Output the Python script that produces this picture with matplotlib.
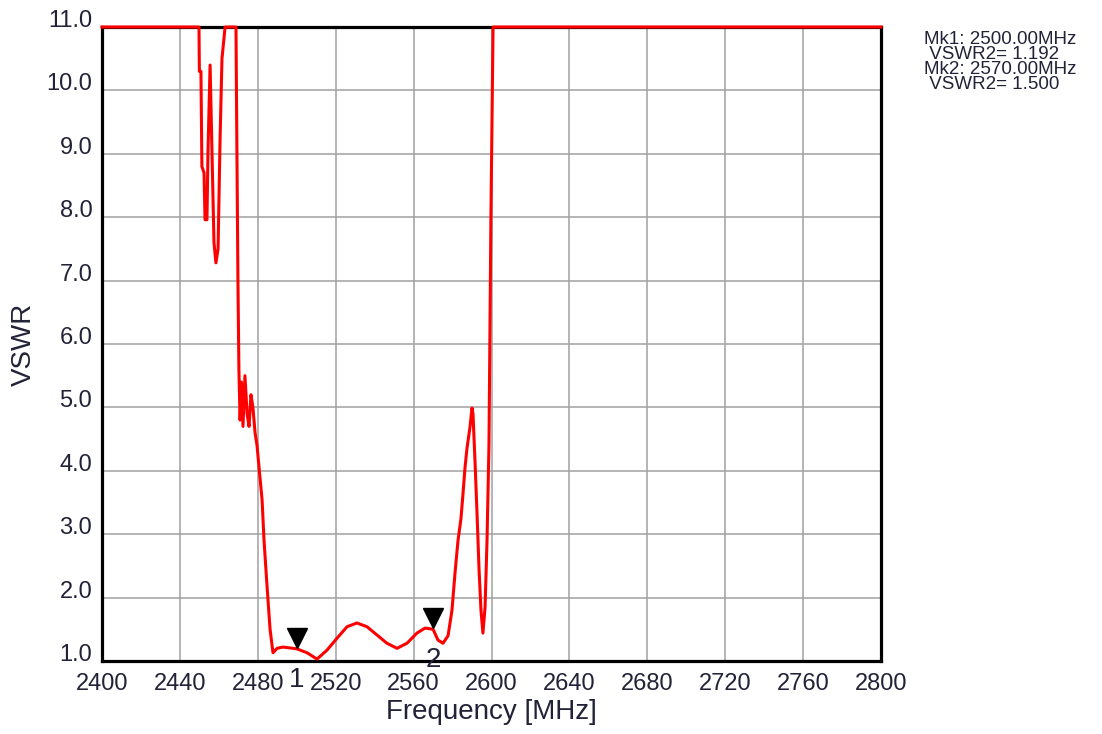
import matplotlib
matplotlib.use("Agg")
import matplotlib.pyplot as plt
import matplotlib.transforms as mtransforms

plt.rcParams['font.family'] = ['Liberation Sans', 'DejaVu Sans']

freq = [2400, 2449.8, 2450.0, 2450.8, 2451.3, 2452.4, 2452.9, 2453.9, 2454.4, 2455.5,
        2456.5, 2457.5, 2458.5, 2459.6, 2460.6, 2461.6, 2463.2, 2468.8, 2469.1, 2469.8,
        2470.3, 2470.9, 2471.6, 2472.4, 2473.4, 2474.5, 2475.5, 2476.5, 2477.5, 2478.6,
        2479.6, 2481.1, 2482.2, 2483.2, 2484.7, 2486.3, 2487.8, 2489.9, 2492.9, 2498.1,
        2500, 2505.3, 2510.4, 2515.5, 2520.7, 2525.8, 2530.9, 2536.1, 2541.2, 2546.3,
        2551.5, 2556.6, 2561.7, 2565.9, 2570, 2572.5, 2575.1, 2577.7, 2579.7, 2581.3,
        2582.8, 2584.3, 2585.4, 2586.4, 2587.4, 2589.0, 2590.0, 2590.5, 2591.6, 2592.6,
        2593.6, 2594.6, 2595.6, 2596.7, 2597.7, 2598.7, 2599.7, 2600.8, 2800]
vswr = [11, 11, 10.3, 10.3, 8.8, 8.7, 7.96, 7.96, 9.0, 10.4,
        9.0, 7.6, 7.28, 7.5, 9.2, 10.5, 11, 11, 9.74, 7.0,
        5.6, 4.8, 5.4, 4.7, 5.5, 4.9, 4.7, 5.2, 5.0, 4.6,
        4.4, 3.9, 3.54, 2.9, 2.2, 1.5, 1.13, 1.2, 1.22, 1.2,
        1.192, 1.13, 1.03, 1.17, 1.36, 1.54, 1.6, 1.54, 1.41, 1.28,
        1.2, 1.28, 1.44, 1.52, 1.5, 1.33, 1.28, 1.4, 1.8, 2.4,
        2.9, 3.24, 3.65, 4.05, 4.35, 4.7, 4.99, 4.9, 4.1, 3.3,
        2.45, 1.8, 1.44, 1.85, 2.9, 4.4, 8.0, 11, 11]

marker_freq = [2500, 2570]
marker_vswr = [1.192, 1.500]
marker_names = ["1", "2"]
marker_text = ["Mk1: 2500.00MHz", " VSWR2= 1.192", "Mk2: 2570.00MHz", " VSWR2= 1.500"]

x_ticks = list(range(2400, 2801, 40))
y_ticks = [1.0, 2.0, 3.0, 4.0, 5.0, 6.0, 7.0, 8.0, 9.0, 10.0, 11.0]

W, H = 1102, 734
fig = plt.figure(figsize=(W / 100, H / 100), dpi=100)
ax = fig.add_axes([102 / W, (H - 661) / H, 779 / W, 634 / H])

text_color = '#222238'

ax.set_xlim(2400, 2800)
ax.set_ylim(1.0, 11.0)
ax.set_xticks(x_ticks)
ax.set_yticks(y_ticks)
ax.set_xticklabels([str(t) for t in x_ticks])
ax.set_yticklabels([f"{t:.1f}" for t in y_ticks])
ax.grid(True, color='#a0a0a0', linewidth=1.1)
ax.set_axisbelow(True)
ax.tick_params(length=0, labelsize=17, labelcolor=text_color)
ax.tick_params(axis='x', pad=9)
ax.tick_params(axis='y', pad=7)
for lab in ax.get_yticklabels():
    lab.set_va('baseline')

for s in ax.spines.values():
    s.set_linewidth(2.3)
    s.set_color('black')

ax.plot(freq, vswr, color='#ff0000', linewidth=2.2, clip_on=False, zorder=5)

# markers
off_tri = mtransforms.offset_copy(ax.transData, fig=fig, x=0, y=11, units='dots')
ax.plot(marker_freq, marker_vswr, linestyle='none', marker='v', markersize=14,
        color='black', transform=off_tri, zorder=6, clip_on=False)
off_lab = mtransforms.offset_copy(ax.transData, fig=fig, x=0, y=-31, units='dots')
for f, v, n in zip(marker_freq, marker_vswr, marker_names):
    ax.text(f, v, n, transform=off_lab, ha='center', va='center', fontsize=20,
            color=text_color, zorder=6, clip_on=False)

ax.set_xlabel("Frequency [MHz]", fontsize=20, color=text_color)
ax.xaxis.set_label_coords(0.5, (661 - 719) / 634)
ax.xaxis.label.set_va('baseline')
ax.set_ylabel("VSWR", fontsize=20, color=text_color)
ax.yaxis.set_label_coords((24 - 102) / 779, 0.5)
ax.yaxis.label.set_va('center')

# marker readout text (top right)
xs = [924, 924, 924, 924]
ys = [44, 59, 74, 89]
for t, xp, yp in zip(marker_text, xs, ys):
    fig.text(xp / W, 1 - yp / H, t, fontsize=13.5, color=text_color,
             ha='left', va='baseline')

fig.savefig("out.png", dpi=100)
